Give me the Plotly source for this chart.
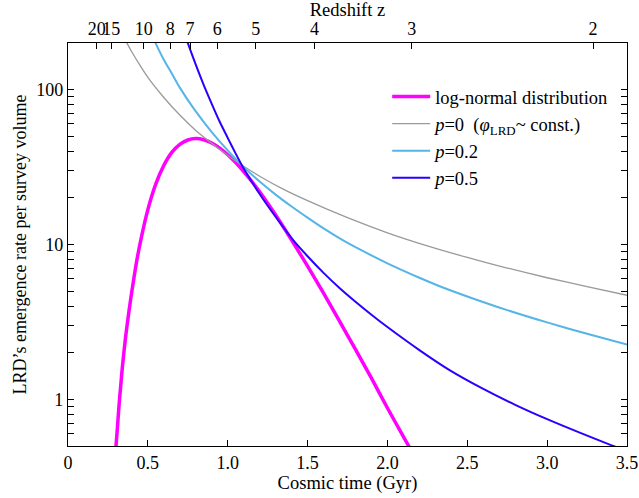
import numpy as np
import plotly.graph_objects as go

# ---------------- data ----------------
# log-normal distribution
t_logn = [0.29, 0.30, 0.31, 0.32, 0.33, 0.34, 0.36, 0.38, 0.40, 0.43, 0.46, 0.50, 0.55, 0.60,
          0.65, 0.70, 0.75, 0.80, 0.85, 0.90, 0.95, 1.00, 1.05, 1.10, 1.15, 1.20, 1.30, 1.40,
          1.50, 1.60, 1.70, 1.80, 1.90, 2.00, 2.10, 2.15, 2.20]
v_logn = [0.36, 0.49, 0.67, 0.93, 1.22, 1.6, 2.5, 3.6, 5.0, 7.8, 11.2, 16.8, 24.6, 32.4,
          39.3, 44.3, 47.3, 48.3, 47.5, 45.2, 41.9, 38.0, 33.8, 29.6, 25.6, 21.9, 15.5, 10.7,
          7.25, 4.85, 3.2, 2.1, 1.37, 0.88, 0.575, 0.465, 0.37]

# p = 0
t_p0 = [0.35, 0.37, 0.40, 0.45, 0.50, 0.60, 0.70, 0.80, 0.90, 1.00, 1.10, 1.20, 1.35, 1.50,
        1.75, 2.00, 2.25, 2.50, 2.75, 3.00, 3.25, 3.50]
v_p0 = [218, 199, 175, 144, 120, 89, 68.5, 54.5, 45, 37.6, 32.0, 27.6, 22.7, 19.2,
        14.9, 11.9, 9.8, 8.25, 7.05, 6.1, 5.35, 4.7]

# p = 0.2
t_p02 = [0.53, 0.552, 0.60, 0.65, 0.70, 0.80, 0.90, 1.00, 1.10, 1.20, 1.30, 1.40, 1.50, 1.60,
         1.72, 1.80, 2.00, 2.20, 2.327, 2.50, 2.75, 3.00, 3.25, 3.50]
v_p02 = [220, 196, 156, 127, 103, 72.3, 53.2, 40.5, 31.6, 25.5, 21.0, 17.6, 14.9, 12.7,
         10.67, 9.61, 7.56, 6.10, 5.38, 4.62, 3.77, 3.14, 2.65, 2.26]

# p = 0.5
t_p05 = [0.73, 0.75, 0.80, 0.85, 0.90, 0.95, 1.00, 1.05, 1.10, 1.20, 1.30, 1.41, 1.50, 1.60,
         1.70, 1.80, 1.90, 2.00, 2.20, 2.389, 2.60, 2.80, 3.00, 3.20, 3.40, 3.50]
v_p05 = [229, 200, 145, 107, 81, 62, 48.8, 38.6, 30.9, 21.2, 15.1, 10.67, 8.4, 6.56,
         5.24, 4.27, 3.52, 2.93, 2.08, 1.545, 1.168, 0.922, 0.745, 0.612, 0.507, 0.463]

x_ticks = [0, 0.5, 1.0, 1.5, 2.0, 2.5, 3.0, 3.5]
x_ticktext = ["0", "0.5", "1.0", "1.5", "2.0", "2.5", "3.0", "3.5"]
y_ticks = [1, 10, 100]
y_ticktext = ["1", "10", "100"]
z_ticks = [20, 15, 10, 8, 7, 6, 5, 4, 3, 2]

names = ["log-normal distribution",
         "<i>p</i>=0  (<i>φ</i><sub>LRD</sub>~ const.)",
         "<i>p</i>=0.2",
         "<i>p</i>=0.5"]
colors = ["#ff00ff", "#9a9a9a", "#55b4e8", "#2b00ff"]
widths = [3.5, 1.3, 2.0, 2.0]


# cosmic time (Gyr) at redshift z, flat LCDM (Planck 2015)
def age_gyr(z, H0=67.74, Om=0.3089):
    OL = 1.0 - Om
    hubble_time = 977.79 / H0
    return (2.0 * hubble_time / (3.0 * np.sqrt(OL))) * np.arcsinh(
        np.sqrt(OL / Om) * (1.0 + np.asarray(z, float)) ** -1.5)


z_pos = [float(age_gyr(z)) for z in z_ticks]

FONT = "Liberation Serif"

fig = go.Figure()
series = [(t_logn, v_logn), (t_p0, v_p0), (t_p02, v_p02), (t_p05, v_p05)]
for (tx, vy), nm, c, w in zip(series, names, colors, widths):
    fig.add_trace(go.Scatter(x=tx, y=vy, mode="lines", name=nm,
                             line=dict(color=c, width=w, shape="spline", smoothing=0.6)))

# invisible trace so the top (redshift) axis is drawn
fig.add_trace(go.Scatter(x=[z_pos[0], z_pos[-1]], y=[1, 1], xaxis="x2", mode="lines",
                         line=dict(width=0, color="rgba(0,0,0,0)"), showlegend=False,
                         hoverinfo="skip"))

axis_common = dict(showgrid=False, zeroline=False, showline=True, linecolor="black",
                   linewidth=1.2, ticks="inside", tickcolor="black", tickwidth=1,
                   automargin=False,
                   tickfont=dict(family=FONT, size=18, color="black"))

fig.update_layout(
    width=639, height=498,
    margin=dict(l=68, r=12, t=43, b=52),
    paper_bgcolor="white", plot_bgcolor="white",
    font=dict(family=FONT, size=18, color="black"),
    showlegend=True,
    legend=dict(x=0.571, y=0.913, xanchor="left", yanchor="top",
                bgcolor="rgba(0,0,0,0)", font=dict(family=FONT, size=18.5, color="black"),
                itemwidth=38, tracegroupgap=0),
    xaxis=dict(range=[0, 3.5], tickmode="array", tickvals=x_ticks, ticktext=x_ticktext,
               ticklen=6, mirror=False,
               title=dict(text="Cosmic time (Gyr)", standoff=4,
                          font=dict(family=FONT, size=18.5, color="black")),
               **axis_common),
    xaxis2=dict(range=[0, 3.5], overlaying="x", side="top", anchor="y",
                tickmode="array", tickvals=z_pos, ticktext=[str(z) for z in z_ticks],
                ticklen=6, tickangle=0,
                title=dict(text="Redshift z", standoff=0,
                           font=dict(family=FONT, size=18.5, color="black")),
                **axis_common),
    yaxis=dict(type="log", range=[np.log10(0.5), np.log10(200)], tickmode="array",
               tickvals=y_ticks, ticktext=y_ticktext, ticklen=6, mirror="allticks",
               minor=dict(ticks="inside", ticklen=3.5, tickcolor="black", tickwidth=1,
                          tickmode="array",
                          tickvals=[0.6, 0.7, 0.8, 0.9, 2, 3, 4, 5, 6, 7, 8, 9,
                                    20, 30, 40, 50, 60, 70, 80, 90, 200]),
               title=dict(text="LRD’s emergence rate per survey volume", standoff=4,
                          font=dict(family=FONT, size=18, color="black")),
               **axis_common),
)

fig.write_html("out.html")
